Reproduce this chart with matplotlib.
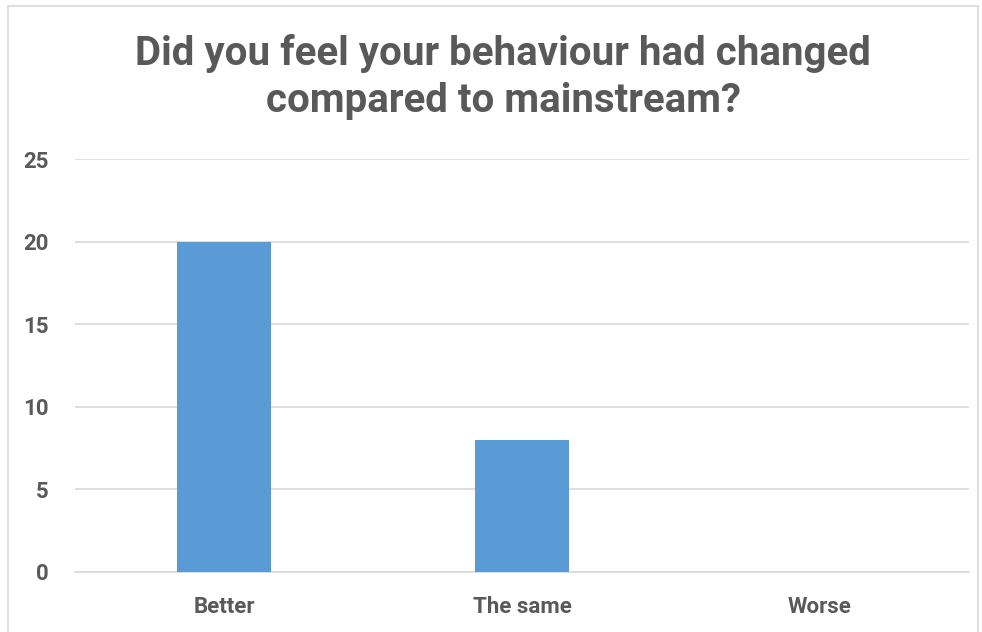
import matplotlib.pyplot as plt
from matplotlib.patches import Rectangle

plt.rcParams['font.family'] = ['Roboto', 'DejaVu Sans']

categories = ['Better', 'The same', 'Worse']
counts = [20, 8, 0]
y_ticks = [0, 5, 10, 15, 20, 25]

W, H = 982, 632
fig = plt.figure(figsize=(W / 100, H / 100), dpi=100)

# light border around the chart area
fig.add_artist(Rectangle((8 / W, -0.05), 970 / W, 1 - 6 / H + 0.05,
                         transform=fig.transFigure, fill=False,
                         edgecolor='#d9d9d9', linewidth=1.2))

ax = fig.add_axes([75 / W, 1 - 572 / H, (969 - 75) / W, (572 - 159) / H])

ax.bar(range(len(categories)), counts, width=0.316, color='#5b9bd5', zorder=3)

ax.set_xlim(-0.5, len(categories) - 0.5)
ax.set_ylim(0, 25)
ax.set_yticks(y_ticks)
ax.set_xticks(range(len(categories)))
ax.set_xticklabels(categories)
ax.grid(axis='y', color='#d9d9d9', linewidth=1.2, zorder=0)
for s in ['top', 'right', 'left']:
    ax.spines[s].set_visible(False)
ax.spines['bottom'].set_color('#d9d9d9')
ax.spines['bottom'].set_linewidth(1.2)
ax.tick_params(length=0, labelsize=16, labelcolor='#595959')
ax.tick_params(axis='x', pad=17)
ax.tick_params(axis='y', pad=19)
for lab in ax.get_xticklabels() + ax.get_yticklabels():
    lab.set_fontweight('bold')

fig.text(503 / W, 1 - 77 / H, 'Did you feel your behaviour had changed\ncompared to mainstream?',
         ha='center', va='center', fontsize=29, fontweight='bold',
         color='#595959', linespacing=1.3)

fig.savefig('out.png', dpi=100)
